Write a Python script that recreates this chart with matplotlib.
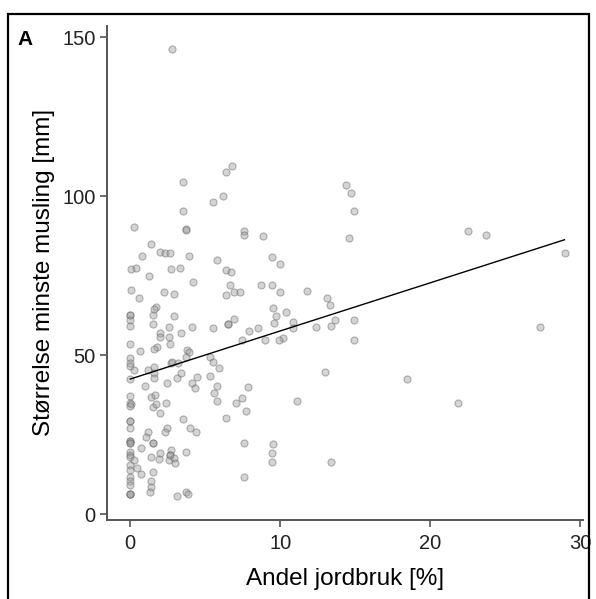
"""
Scatter of smallest mussel size against share of agriculture, panel A
"""

# Imports
import matplotlib
matplotlib.use("Agg")
import matplotlib.pyplot as plt
from matplotlib.patches import Rectangle

plt.rcParams["font.family"] = ["Liberation Sans", "DejaVu Sans"]

# Data
jordbruk = [
    2.8, 3.55, 6.8, 6.4, 6.2, 5.5, 3.5, 0.27, 3.7, 3.75, 7.6, 7.6, 8.85, 1.4, 2.0, 2.3, 2.65,
    0.8, 3.95, 5.8, 9.45, 10.0, 0.07, 0.36, 2.7, 3.35, 6.4, 6.75, 1.25, 4.2, 6.65, 8.75, 9.45,
    0.02, 2.27, 2.95, 6.4, 6.9, 7.3, 10.0, 11.8, 0.6, 13.1, 13.3, 14.4, 14.7, 14.9, 14.6,
    22.5, 23.7, 29.0,
    0, 0, 0, 0, 1.55, 1.7, 1.6, 1.55, 2.9, 2.6, 2.0, 2.0, 2.6, 2.65, 1.8, 1.6, 3.4, 4.1, 3.8,
    5.5, 6.5, 6.5, 6.9, 7.9, 8.5, 9.0, 7.45, 9.5, 9.7, 9.6, 10.4, 10.85, 10.85, 10.2, 9.9,
    12.4, 13.4, 13.65, 14.95, 14.95, 13.0, 27.3,
    0, 0.62, 0, 0, 0, 0.27, 0, 3.9, 3.7, 1.6, 1.6, 1.6, 1.2, 0.96, 2.45, 2.7, 2.8, 3.2, 3.15,
    3.4, 4.15, 4.35, 4.45, 5.35, 5.55, 5.9, 5.35, 5.8, 5.6, 5.8, 6.4, 7.05, 7.45, 7.7, 7.85,
    7.6, 7.6, 9.5, 9.45, 9.45, 11.15, 13.4, 18.45, 21.85,
    0, 0, 0.07, 0, 1.4, 1.65, 1.55, 1.7, 2.4, 2.0, 3.5, 0, 0, 0, 1.2, 1.05, 2.45, 2.3, 4.0, 4.4,
    0, 0, 0, 0, 1.55, 1.55, 0.7, 0, 0, 0, 0.27, 1.4, 1.9, 2.0, 2.7, 2.65, 2.65, 2.6, 2.9, 3.0,
    3.75, 0, 0.44, 0, 0.71, 1.5, 0, 0, 1.4, 0, 1.4, 1.3, 0, 0, 0, 3.15, 3.75, 3.85,
]
minste_musling = [
    146.4, 104.4, 109.4, 107.6, 100.2, 98.1, 95.3, 90.3, 89.7, 89.4, 89.1, 87.9, 87.4, 84.9,
    82.4, 82.1, 82.1, 81.2, 81.2, 80.0, 80.8, 78.7, 77.0, 77.5, 77.0, 77.5, 76.7, 76.3, 75.0,
    73.0, 72.1, 72.1, 72.1, 70.5, 70.0, 69.3, 68.9, 70.0, 70.0, 70.0, 70.1, 67.9, 68.0, 65.9,
    103.6, 101.0, 95.3, 87.0, 89.1, 87.8, 82.1,
    62.7, 62.7, 61.0, 59.3, 62.7, 65.3, 64.6, 59.7, 62.3, 58.9, 56.9, 55.8, 55.8, 53.6, 52.5,
    51.9, 56.9, 58.9, 51.7, 58.5, 59.7, 59.7, 61.4, 57.7, 58.5, 54.8, 54.8, 64.7, 62.3, 60.2,
    63.5, 60.3, 58.5, 55.5, 54.8, 58.9, 59.3, 61.0, 61.0, 54.8, 44.8, 58.9,
    53.6, 51.4, 49.1, 47.5, 46.6, 45.2, 42.5, 50.9, 49.3, 46.4, 44.3, 42.8, 45.4, 40.4, 41.2,
    47.5, 48.0, 47.5, 42.8, 44.3, 41.2, 39.6, 43.3, 49.4, 48.0, 46.1, 43.6, 40.3, 38.2, 35.7,
    30.1, 35.1, 36.6, 32.5, 39.9, 22.5, 11.8, 22.1, 19.2, 16.4, 35.7, 16.4, 42.4, 35.0,
    37.1, 35.1, 34.7, 34.1, 37.0, 37.5, 33.8, 34.6, 34.9, 31.8, 30.0, 29.2, 29.2, 27.1, 25.9,
    24.2, 27.2, 25.9, 27.2, 25.9, 23.0, 23.0, 22.3, 22.3, 22.3, 22.3, 20.9, 19.5, 18.6, 17.9,
    17.1, 17.9, 17.3, 19.4, 20.2, 18.6, 18.6, 16.9, 17.6, 16.0, 19.7, 15.5, 14.5, 13.9, 12.7,
    13.2, 11.8, 10.3, 10.3, 9.2, 8.4, 6.9, 6.3, 6.3, 6.3, 5.6, 7.0, 6.2,
]

# Fitted line (ends)
fit_x = [0, 28.95]
fit_y = [42.5, 86.3]

x_ticks = [0, 10, 20, 30]
y_ticks = [0, 50, 100, 150]

# Prepare graph
fig = plt.figure(figsize=(5.96, 5.99), dpi=100)
ax = fig.add_axes([0.1795, 0.132, 0.799, 0.825])

ax.scatter(jordbruk, minste_musling, s=26, facecolor="#a0a0a0", edgecolor="#606060",
           linewidth=0.8, alpha=0.45, zorder=2)
ax.plot(fit_x, fit_y, color="black", linewidth=1.0, zorder=3)

ax.set_xlim(-1.55, 30.2)
ax.set_ylim(-1.8, 153.6)
ax.set_xticks(x_ticks)
ax.set_yticks(y_ticks)

# Axis style
axis_grey = "#555555"
for side in ["top", "right"]:
    ax.spines[side].set_visible(False)
for side in ["left", "bottom"]:
    ax.spines[side].set_color(axis_grey)
    ax.spines[side].set_linewidth(1.4)
ax.tick_params(axis="both", direction="out", length=5, width=1.2, color=axis_grey,
               labelsize=14.5, labelcolor="#222222")
ax.tick_params(axis="x", pad=5)
ax.tick_params(axis="y", pad=3)

# Label axis
ax.set_xlabel("Andel jordbruk [%]", fontsize=17.5, labelpad=11)
ax.set_ylabel("Størrelse minste musling [mm]", fontsize=17.5)
ax.yaxis.set_label_coords(-0.11, 0.5)

# Panel letter and frame
fig.text(17 / 596, 1 - 30 / 599, "A", fontsize=15, fontweight="bold", va="top", ha="left")
fig.patches.append(Rectangle((8 / 596, -0.01), (589 - 8) / 596, 1 - 14 / 599 + 0.01,
                             transform=fig.transFigure, fill=False, edgecolor="black",
                             linewidth=1.6, clip_on=False))

fig.savefig("out.png", dpi=100)
